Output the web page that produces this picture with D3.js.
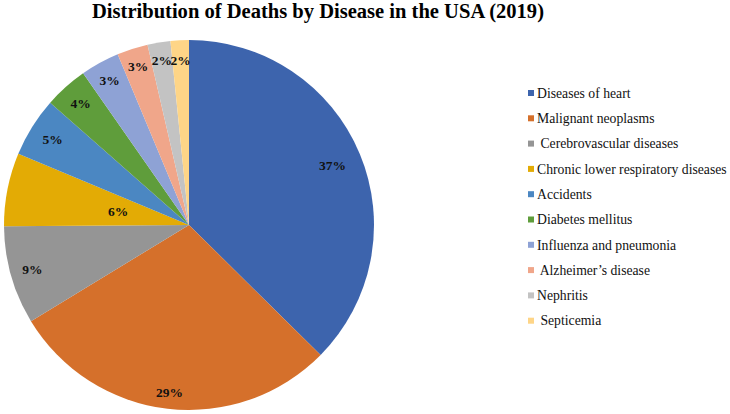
<!DOCTYPE html>
<html>
<head>
<meta charset="utf-8">
<script src="https://cdn.jsdelivr.net/npm/d3@7"></script>
<style>
  body { margin: 0; background: #fff; }
  text { font-family: "Liberation Serif", "Times New Roman", serif; }
</style>
</head>
<body>
<div id="chart"></div>
<script>
// data (share of deaths, %)
var causes = ["Diseases of heart", "Malignant neoplasms", " Cerebrovascular diseases",
  "Chronic lower respiratory diseases", "Accidents", "Diabetes mellitus",
  "Influenza and pneumonia", " Alzheimer\u2019s disease", "Nephritis", " Septicemia"];
var shares = [37.4, 28.9, 8.6, 6.4, 5.2, 3.8, 3.4, 2.7, 2.0, 1.6];
var colors = ["#3d64ad", "#d5702b", "#959595", "#e3ab05", "#4b87c2",
  "#5f9d3b", "#8ea2d5", "#f0a68a", "#c3c3c3", "#fed587"];

var width = 730, height = 414;
var cx = 189, cy = 225, r = 185;
// label distance from centre, as fraction of the radius (Excel "best fit")
var labelDist = [0.84, 0.91, 0.88, 0.39, 0.87, 0.88, 0.89, 0.9, 0.9, 0.89];

var svg = d3.select("#chart").append("svg")
    .attr("width", width)
    .attr("height", height)
    .attr("font-family", "'Liberation Serif', 'Times New Roman', serif");

svg.append("text")
    .attr("x", 318)
    .attr("y", 18)
    .attr("text-anchor", "middle")
    .attr("font-size", 20)
    .attr("font-weight", "bold")
    .attr("textLength", 452)
    .attr("lengthAdjust", "spacingAndGlyphs")
    .text("Distribution of Deaths by Disease in the USA (2019)");

var pie = d3.pie().sort(null).value(function (d) { return d; });
var arcs = pie(shares);
var arc = d3.arc().innerRadius(0).outerRadius(r);

var g = svg.append("g").attr("transform", `translate(${cx},${cy})`);

g.selectAll("path")
    .data(arcs)
    .enter().append("path")
    .attr("d", arc)
    .attr("fill", function (d, i) { return colors[i]; });

g.selectAll(".lbl")
    .data(arcs)
    .enter().append("text")
    .attr("class", "lbl")
    .attr("transform", function (d, i) {
        var a = (d.startAngle + d.endAngle) / 2;
        var k = labelDist[i] * r;
        return `translate(${Math.sin(a) * k},${-Math.cos(a) * k})`;
    })
    .attr("text-anchor", "middle")
    .attr("dy", "0.35em")
    .attr("font-size", 13.5)
    .attr("font-weight", "bold")
    .attr("fill", "#111")
    .text(function (d) { return Math.round(d.data) + "%"; });

var legend = svg.selectAll(".legend")
    .data(causes)
    .enter().append("g")
    .attr("class", "legend")
    .attr("transform", function (d, i) {
        return `translate(528,${93 + i * 25.3})`;
    });

legend.append("rect")
    .attr("x", 0)
    .attr("y", -3)
    .attr("width", 6)
    .attr("height", 6)
    .attr("fill", function (d, i) { return colors[i]; });

legend.append("text")
    .attr("x", 9)
    .attr("dy", "0.35em")
    .attr("font-size", 13.7)
    .attr("fill", "#111")
    .style("white-space", "pre")
    .text(function (d) { return d; });
</script>
</body>
</html>
